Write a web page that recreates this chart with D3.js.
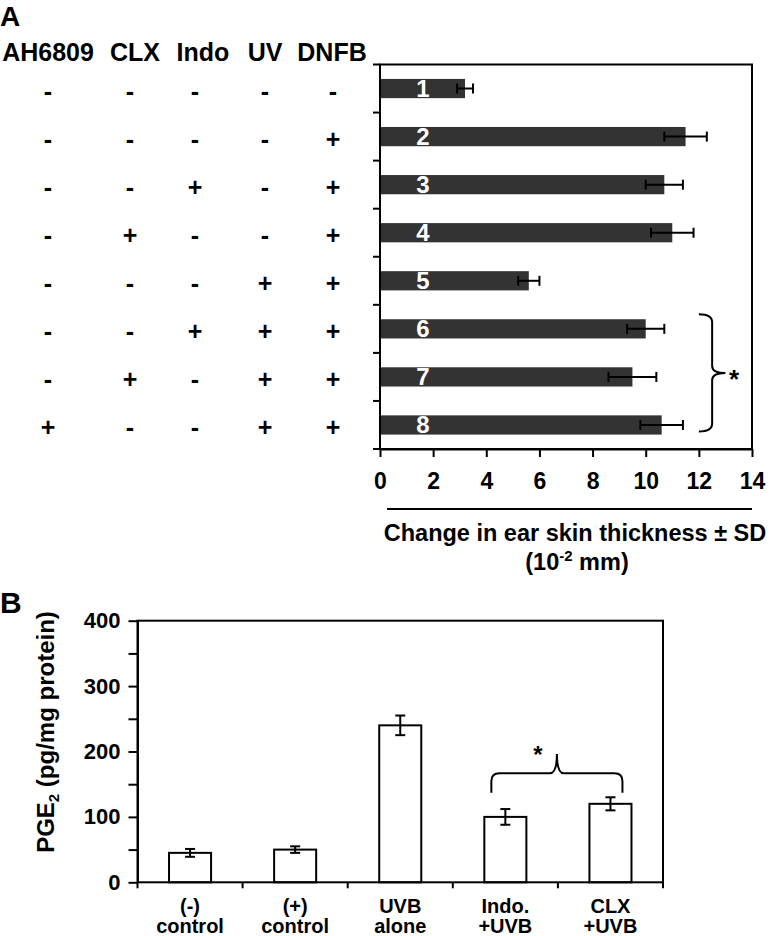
<!DOCTYPE html>
<html><head><meta charset="utf-8">
<script src="https://cdn.jsdelivr.net/npm/d3@7"></script>
<style>
html,body{margin:0;padding:0;background:#fff;}
svg text{font-family:"Liberation Sans",Arial,Helvetica,sans-serif;font-weight:bold;fill:#000;}
</style></head>
<body>
<svg id="c" width="773" height="936"></svg>
<script>
// ---------- Panel A data ----------
const treatments = ["AH6809","CLX","Indo","UV","DNFB"];
const groupsA = ["1","2","3","4","5","6","7","8"];
const signsA = [
  ["-","-","-","-","-"],
  ["-","-","-","-","+"],
  ["-","-","+","-","+"],
  ["-","+","-","-","+"],
  ["-","-","-","+","+"],
  ["-","-","+","+","+"],
  ["-","+","-","+","+"],
  ["+","-","-","+","+"]
];
const valuesA = [3.2, 11.5, 10.7, 11.0, 5.6, 10.0, 9.5, 10.6];
const errorsA = [0.3, 0.8, 0.7, 0.8, 0.4, 0.7, 0.9, 0.8];
const ticksA = [0,2,4,6,8,10,12,14];

// ---------- Panel B data ----------
const catsB = [["(-)","control"],["(+)","control"],["UVB","alone"],["Indo.","+UVB"],["CLX","+UVB"]];
const valuesB = [45, 50, 240, 100, 120];
const errorsB = [6, 5, 15, 12, 10];
const ticksB = [0,100,200,300,400];

const svg = d3.select("#c");
const F = '"Liberation Sans",Arial,sans-serif';

// ================= PANEL A =================
svg.append("text").attr("x",0).attr("y",26).style("font-size","28px").text("A");

const xA = d3.scaleLinear().domain([0,14]).range([380,752]);
const yA = d3.scaleBand().domain(groupsA).range([64.5,449]).paddingInner(0.6).paddingOuter(0.3);
const stepA = yA.step();

// header
const colX = [48,135,203,265,332];
const xCol = d3.scalePoint().domain(treatments).range([0,4]);
svg.selectAll(".hdr").data(treatments).join("text")
  .attr("x",d=>colX[xCol(d)]).attr("y",61).attr("text-anchor","middle")
  .style("font-size","25px").text(d=>d);
const signCol = [48,130,195,265,333];
signsA.forEach((row,i)=>{
  svg.selectAll(null).data(row).join("text")
    .attr("x",(d,j)=>signCol[j]).attr("y",yA(groupsA[i])+yA.bandwidth()/2+11)
    .attr("text-anchor","middle").style("font-size","25px").text(d=>d);
});

// bars
const gA = svg.append("g");
gA.selectAll("rect.bar").data(valuesA).join("rect")
  .attr("x",xA(0)).attr("y",(d,i)=>yA(groupsA[i]))
  .attr("width",d=>xA(d)-xA(0)).attr("height",yA.bandwidth())
  .attr("fill","#333333");
// bar labels
gA.selectAll("text.bl").data(groupsA).join("text")
  .attr("x",423).attr("y",d=>yA(d)+yA.bandwidth()/2+8.5)
  .attr("text-anchor","middle").style("font-size","24px").style("fill","#fff").text(d=>d);
// error bars
valuesA.forEach((v,i)=>{
  const cy = yA(groupsA[i])+yA.bandwidth()/2;
  const e = errorsA[i];
  gA.append("line").attr("x1",xA(v-e)).attr("x2",xA(v+e)).attr("y1",cy).attr("y2",cy).attr("stroke","#000").attr("stroke-width",2);
  [v-e,v+e].forEach(x=>gA.append("line").attr("x1",xA(x)).attr("x2",xA(x)).attr("y1",cy-5).attr("y2",cy+5).attr("stroke","#000").attr("stroke-width",2));
});
// box
svg.append("rect").attr("x",xA(0)).attr("y",64.5).attr("width",xA(14)-xA(0)).attr("height",449-64.5)
  .attr("fill","none").attr("stroke","#000").attr("stroke-width",2);
// y ticks at band boundaries
const boundsA = groupsA.map(g=>yA(g)-stepA*yA.paddingInner()/2).concat([449]);
svg.selectAll("line.yt").data(boundsA).join("line")
  .attr("x1",373).attr("x2",xA(0)).attr("y1",d=>d).attr("y2",d=>d).attr("stroke","#000").attr("stroke-width",2);
// x axis
const axA = svg.append("g").attr("transform","translate(0,449)")
  .call(d3.axisBottom(xA).tickValues(ticksA).tickSize(8).tickPadding(16).tickSizeOuter(0));
axA.select(".domain").attr("stroke-width",2);
axA.selectAll(".tick line").attr("stroke-width",2);
axA.selectAll(".tick text").style("font-size","23px").style("font-family",F).style("font-weight","bold");
// title rule and title
svg.append("line").attr("x1",387).attr("x2",752).attr("y1",509).attr("y2",509).attr("stroke","#000").attr("stroke-width",2);
svg.append("text").attr("x",575).attr("y",541).attr("text-anchor","middle").style("font-size","23.5px")
  .text("Change in ear skin thickness ± SD");
const t2 = svg.append("text").attr("x",577).attr("y",570).attr("text-anchor","middle").style("font-size","23.5px");
t2.append("tspan").text("(10");
t2.append("tspan").attr("dy",-9).style("font-size","15px").text("-2");
t2.append("tspan").attr("dy",9).text(" mm)");
// bracket A
{
  const top = yA("6")-5, bot = yA("8")+yA.bandwidth()-3;
  const xl = xA(12.0), xm = xA(12.5), xt = xA(13.0), mid = (top+bot)/2;
  const p = d3.path();
  p.moveTo(xl,top); p.quadraticCurveTo(xm,top,xm,top+8);
  p.lineTo(xm,mid-7); p.quadraticCurveTo(xm,mid,xt,mid);
  p.quadraticCurveTo(xm,mid,xm,mid+7);
  p.lineTo(xm,bot-8); p.quadraticCurveTo(xm,bot,xl,bot);
  svg.append("path").attr("d",p.toString()).attr("fill","none").attr("stroke","#000").attr("stroke-width",2);
  svg.append("text").attr("x",734).attr("y",mid+3+12).attr("text-anchor","middle").style("font-size","26px").text("*");
}

// ================= PANEL B =================
svg.append("text").attr("x",0).attr("y",613).style("font-size","30px").text("B");
const xB = d3.scaleBand().domain(d3.range(catsB.length)).range([137.5,663]).paddingInner(0.6).paddingOuter(0.3);
const yB = d3.scaleLinear().domain([0,400]).range([882.3,620.7]);
const stepB = xB.step();

const gB = svg.append("g");
gB.selectAll("rect").data(valuesB).join("rect")
  .attr("x",(d,i)=>xB(i)).attr("y",d=>yB(d)).attr("width",xB.bandwidth()).attr("height",d=>yB(0)-yB(d))
  .attr("fill","#fff").attr("stroke","#000").attr("stroke-width",2);
valuesB.forEach((v,i)=>{
  const cx = xB(i)+xB.bandwidth()/2, e = errorsB[i];
  gB.append("line").attr("x1",cx).attr("x2",cx).attr("y1",yB(v-e)).attr("y2",yB(v+e)).attr("stroke","#000").attr("stroke-width",2);
  [v-e,v+e].forEach(y=>gB.append("line").attr("x1",cx-5).attr("x2",cx+5).attr("y1",yB(y)).attr("y2",yB(y)).attr("stroke","#000").attr("stroke-width",2));
});
// box
svg.append("rect").attr("x",137.5).attr("y",yB(400)).attr("width",663-137.5).attr("height",yB(0)-yB(400))
  .attr("fill","none").attr("stroke","#000").attr("stroke-width",2);
// y axis
const ayB = svg.append("g").attr("transform","translate(137.5,0)")
  .call(d3.axisLeft(yB).tickValues(d3.range(0,401,50)).tickSize(9).tickPadding(8)
    .tickFormat(d=>ticksB.includes(d)?d:"").tickSizeOuter(0));
ayB.select(".domain").attr("stroke-width",2);
ayB.selectAll(".tick line").attr("stroke-width",2);
ayB.selectAll(".tick text").style("font-size","22px").style("font-family",F).style("font-weight","bold");
// x ticks at band boundaries
const boundsB = d3.range(catsB.length).map(i=>xB(i)-stepB*xB.paddingInner()/2).concat([663]);
svg.selectAll("line.xtb").data(boundsB).join("line")
  .attr("x1",d=>d).attr("x2",d=>d).attr("y1",yB(0)).attr("y2",yB(0)+6).attr("stroke","#000").attr("stroke-width",2);
// category labels
catsB.forEach((c,i)=>{
  const cx = xB(i)+xB.bandwidth()/2;
  svg.append("text").attr("x",cx).attr("y",913).attr("text-anchor","middle").style("font-size","20px").text(c[0]);
  svg.append("text").attr("x",cx).attr("y",933).attr("text-anchor","middle").style("font-size","20px").text(c[1]);
});
// y title
const yt = svg.append("text").attr("transform","translate(54,732) rotate(-90)").attr("text-anchor","middle").style("font-size","24px");
yt.append("tspan").text("PGE");
yt.append("tspan").attr("dy",5).style("font-size","15px").text("2");
yt.append("tspan").attr("dy",-5).text(" (pg/mg protein)");
// bracket B
{
  const xl = xB(3)+xB.bandwidth()/2-14, xr = xB(4)+xB.bandwidth()/2+12;
  const xm = (xB(3)+xB.bandwidth()+xB(4))/2 - 1;
  const yEnd = yB(137), yH = yB(166.7), yTip = yB(196);
  const p = d3.path();
  p.moveTo(xl,yEnd); p.lineTo(xl,yH+8); p.quadraticCurveTo(xl,yH,xl+8,yH);
  p.lineTo(xm-7,yH); p.quadraticCurveTo(xm,yH,xm,yTip);
  p.quadraticCurveTo(xm,yH,xm+7,yH);
  p.lineTo(xr-8,yH); p.quadraticCurveTo(xr,yH,xr,yH+8); p.lineTo(xr,yEnd);
  svg.append("path").attr("d",p.toString()).attr("fill","none").attr("stroke","#000").attr("stroke-width",2);
  svg.append("text").attr("x",xm-19).attr("y",yTip+9).attr("text-anchor","middle").style("font-size","24px").text("*");
}
</script>
</body></html>
